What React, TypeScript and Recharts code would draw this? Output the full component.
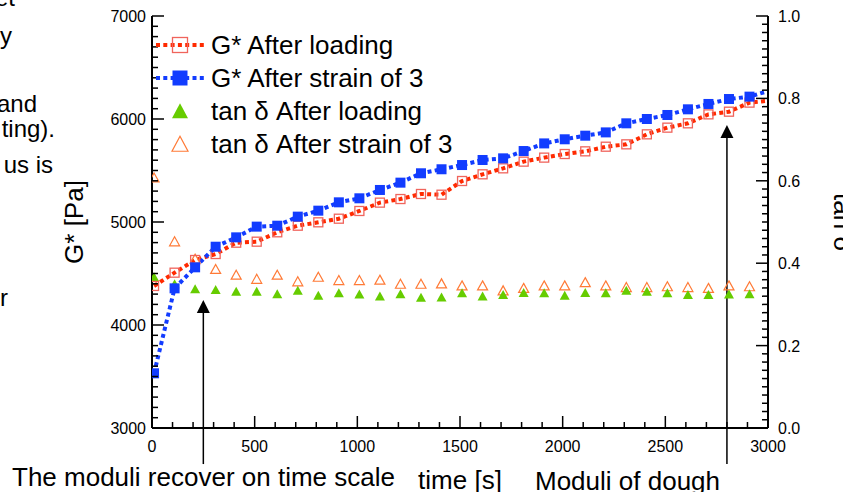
import React from "react";
import { ComposedChart, Line, XAxis, YAxis, Legend, ReferenceLine, Label } from "recharts";

const FONT = "'Liberation Sans', Arial, sans-serif";

// time in s (last entry only carries the G* lines to the right edge)
const times = [
  10, 110, 210, 310, 410, 510, 610, 710, 810, 910, 1010, 1110, 1210, 1310, 1410,
  1510, 1610, 1710, 1810, 1910, 2010, 2110, 2210, 2310, 2410, 2510, 2610, 2710, 2810, 2910, 2990,
];
const gAfterLoading = [
  4379, 4508, 4631, 4689, 4799, 4809, 4900, 4964, 4997, 5032, 5107, 5188, 5223, 5272, 5265,
  5398, 5463, 5521, 5586, 5625, 5660, 5686, 5731, 5754, 5851, 5916, 5958, 6045, 6071, 6159, 6175,
];
const gAfterStrain = [
  3531, 4356, 4560, 4760, 4851, 4955, 4964, 5052, 5110, 5191, 5230, 5311, 5382, 5473, 5512,
  5553, 5602, 5618, 5689, 5763, 5803, 5838, 5870, 5958, 6000, 6039, 6094, 6146, 6194, 6217, 6265,
];
const tanAfterLoading = [
  0.366, 0.349, 0.337, 0.335, 0.331, 0.331, 0.325, 0.333, 0.321, 0.327, 0.324, 0.319, 0.325, 0.316, 0.317,
  0.327, 0.319, 0.323, 0.328, 0.327, 0.321, 0.328, 0.327, 0.333, 0.331, 0.327, 0.323, 0.323, 0.324, 0.325,
];
const tanAfterStrain = [
  0.607, 0.452, 0.41, 0.385, 0.371, 0.361, 0.371, 0.355, 0.366, 0.358, 0.358, 0.359, 0.349, 0.349, 0.35,
  0.345, 0.345, 0.333, 0.339, 0.345, 0.345, 0.353, 0.345, 0.341, 0.341, 0.343, 0.341, 0.339, 0.345, 0.343,
];
const seriesNames = [
  "G* After loading",
  "G* After strain of 3",
  "tan \u03b4 After loading",
  "tan \u03b4 After strain of 3",
];
const timeLabels = [0, 500, 1000, 1500, 2000, 2500, 3000];
const gLabels = [3000, 4000, 5000, 6000, 7000];
const tanLabels = [0, 0.2, 0.4, 0.6, 0.8, 1.0];
// arrows: [time, bottom G*, tip G*]
const arrows = [
  [250, 2650, 4243],
  [2800, 2650, 5942],
];

const N_MARKS = 30;
const data = times.map((t, i) => ({
  t,
  gLoad: gAfterLoading[i],
  gStrain: gAfterStrain[i],
  tanLoad: tanAfterLoading[i] ?? null,
  tanStrain: tanAfterStrain[i] ?? null,
}));

const xTicks = Array.from({ length: 31 }, (_, i) => i * 100);
const gTicks = Array.from({ length: 41 }, (_, i) => 3000 + i * 100);
const tanTicks = Array.from({ length: 51 }, (_, i) => i / 50);

const RED = "#ff2a00";
const RED_SQ = "#f0645c";
const BLUE = "#123cff";
const GREEN = "#66cc00";
const ORANGE = "#ff7a36";

const isIn = (v: number, list: number[]) => list.some((m) => Math.abs(m - v) < 1e-6);

const BottomTick = (p: any) => {
  const v = p.payload.value;
  const major = isIn(v, timeLabels);
  return (
    <g>
      <line x1={p.x} x2={p.x} y1={p.y} y2={p.y - (major ? 12 : 6)} stroke="#000" strokeWidth={1.5} />
      {major && (
        <text x={p.x} y={p.y + 23.5} textAnchor="middle" fontSize={16} fontFamily={FONT} fill="#000">
          {v}
        </text>
      )}
    </g>
  );
};

const TopTick = (p: any) => {
  const major = isIn(p.payload.value, timeLabels);
  return <line x1={p.x} x2={p.x} y1={p.y} y2={p.y + (major ? 12 : 6)} stroke="#000" strokeWidth={1.5} />;
};

const LeftTick = (p: any) => {
  const v = p.payload.value;
  const major = isIn(v, gLabels);
  return (
    <g>
      <line x1={p.x} x2={p.x + (major ? 12 : 6)} y1={p.y} y2={p.y} stroke="#000" strokeWidth={1.5} />
      {major && (
        <text x={p.x - 6} y={p.y + 6} textAnchor="end" fontSize={16} fontFamily={FONT} fill="#000">
          {v}
        </text>
      )}
    </g>
  );
};

const RightTick = (p: any) => {
  const v = p.payload.value;
  const major = isIn(v, tanLabels);
  return (
    <g>
      <line x1={p.x} x2={p.x - (major ? 12 : 6)} y1={p.y} y2={p.y} stroke="#000" strokeWidth={1.5} />
      {major && (
        <text x={p.x + 10} y={p.y + 6} textAnchor="start" fontSize={16} fontFamily={FONT} fill="#000">
          {v.toFixed(1)}
        </text>
      )}
    </g>
  );
};

const OpenSquare = (p: any) => {
  if (p.index >= N_MARKS || p.cy == null) return <g key={`rs${p.index}`} />;
  return (
    <rect key={`rs${p.index}`} x={p.cx - 4.5} y={p.cy - 4.5} width={9} height={9}
      fill="none" stroke={RED_SQ} strokeWidth={1.3} />
  );
};

const FilledSquare = (p: any) => {
  if (p.index >= N_MARKS || p.cy == null) return <g key={`bs${p.index}`} />;
  return <rect key={`bs${p.index}`} x={p.cx - 5} y={p.cy - 5} width={10} height={10} fill={BLUE} />;
};

const triPath = (cx: number, cy: number, w: number, h: number) =>
  `M${cx},${cy - h * 0.55} L${cx + w / 2},${cy + h * 0.45} L${cx - w / 2},${cy + h * 0.45} Z`;

const GreenTri = (p: any) => {
  if (p.value == null || p.cy == null) return <g key={`gt${p.index}`} />;
  return <path key={`gt${p.index}`} d={triPath(p.cx, p.cy, 10, 9)} fill={GREEN} />;
};

const OrangeTri = (p: any) => {
  if (p.value == null || p.cy == null) return <g key={`ot${p.index}`} />;
  return <path key={`ot${p.index}`} d={triPath(p.cx, p.cy, 10, 9)} fill="none" stroke={ORANGE} strokeWidth={1.2} />;
};

const ArrowShape = (p: any) => (
  <g>
    <line x1={p.x1} y1={p.y1} x2={p.x2} y2={p.y2 + 12} stroke="#000" strokeWidth={1.5} />
    <path d={`M${p.x2},${p.y2} L${p.x2 + 6.5},${p.y2 + 13} L${p.x2 - 6.5},${p.y2 + 13} Z`} fill="#000" />
  </g>
);

const legendSample = (i: number) => {
  if (i === 0)
    return (
      <svg width={50} height={20}>
        <line x1={1} x2={49} y1={10} y2={10} stroke={RED} strokeWidth={4} strokeDasharray="4 3.3" />
        <rect x={17.5} y={2.5} width={15} height={15} fill="none" stroke={RED_SQ} strokeWidth={1.3} />
      </svg>
    );
  if (i === 1)
    return (
      <svg width={50} height={20}>
        <line x1={1} x2={49} y1={10} y2={10} stroke={BLUE} strokeWidth={4} strokeDasharray="4 3.3" />
        <rect x={17.5} y={2.5} width={15} height={15} fill={BLUE} />
      </svg>
    );
  return (
    <svg width={50} height={20}>
      <path d={triPath(25, 10.5, 16, 15)} fill={i === 2 ? GREEN : "none"}
        stroke={i === 2 ? "none" : ORANGE} strokeWidth={1.2} />
    </svg>
  );
};

const LegendBox = () => (
  <div style={{ fontFamily: FONT }}>
    {seriesNames.map((name, i) => (
      <div key={name} style={{ display: "flex", alignItems: "center", height: 33 }}>
        {legendSample(i)}
        <span style={{ fontSize: 26, marginLeft: 6, lineHeight: 1, whiteSpace: "nowrap", color: "#000" }}>
          {name}
        </span>
      </div>
    ))}
  </div>
);

const slideText: [string, number, number, "start" | "end", number][] = [
  ["et", 15, 6, "end", 24],
  ["y", 12, 44, "end", 24],
  ["and", 37, 112, "end", 24],
  ["ting).", 55, 137, "end", 24],
  ["us is", 53, 173, "end", 24],
  ["r", 8, 306, "end", 24],
  ["The moduli recover on time scale", 12, 486, "start", 26],
  ["Moduli of dough", 535, 490, "start", 26],
];

export default function App() {
  return (
    <div style={{ position: "absolute", left: 0, top: 0, width: 843, height: 492, background: "#fff", fontFamily: FONT }}>
      <svg width={843} height={492} style={{ position: "absolute", left: 0, top: 0, pointerEvents: "none" }}>
        {slideText.map(([s, x, y, a, fs]) => (
          <text key={s} x={x} y={y} textAnchor={a} fontSize={fs} fontFamily={FONT} fill="#000">
            {s}
          </text>
        ))}
      </svg>
      <ComposedChart width={843} height={492} data={data} margin={{ top: 16, right: 35, bottom: 34, left: 92 }}>
        <XAxis xAxisId="b" dataKey="t" type="number" domain={[0, 3000]} allowDataOverflow ticks={xTicks}
          interval={0} tickLine={false} tickSize={0} tickMargin={0} tick={BottomTick} height={30}
          axisLine={{ stroke: "#000", strokeWidth: 2 }}>
          <Label content={(lp: any) => (
            <text x={lp.viewBox.x + lp.viewBox.width / 2} y={lp.viewBox.y + 61} textAnchor="middle"
              fontSize={26} fontFamily={FONT} fill="#000">time [s]</text>
          )} />
        </XAxis>
        <XAxis xAxisId="t" dataKey="t" type="number" orientation="top" domain={[0, 3000]} allowDataOverflow
          ticks={xTicks} interval={0} tickLine={false} tickSize={0} tickMargin={0} tick={TopTick} height={0}
          axisLine={{ stroke: "#000", strokeWidth: 2 }} />
        <YAxis yAxisId="g" type="number" domain={[3000, 7000]} allowDataOverflow ticks={gTicks} interval={0}
          tickLine={false} tickSize={0} tickMargin={0} tick={LeftTick} width={60}
          axisLine={{ stroke: "#000", strokeWidth: 2 }}>
          <Label content={(lp: any) => {
            const x = lp.viewBox.x + lp.viewBox.width - 69.5;
            const y = lp.viewBox.y + lp.viewBox.height / 2;
            return (
              <text x={x} y={y} transform={`rotate(-90, ${x}, ${y})`} textAnchor="middle" fontSize={26}
                fontFamily={FONT} fill="#000">G* [Pa]</text>
            );
          }} />
        </YAxis>
        <YAxis yAxisId="tan" type="number" orientation="right" domain={[0, 1]} allowDataOverflow ticks={tanTicks}
          interval={0} tickLine={false} tickSize={0} tickMargin={0} tick={RightTick} width={40}
          axisLine={{ stroke: "#000", strokeWidth: 2 }}>
          <Label content={(lp: any) => {
            const x = lp.viewBox.x + 66;
            const y = lp.viewBox.y + lp.viewBox.height / 2;
            return (
              <text x={x} y={y} transform={`rotate(90, ${x}, ${y})`} textAnchor="middle" fontSize={26}
                fontFamily={FONT} fill="#000">tan {"\u03b4"}</text>
            );
          }} />
        </YAxis>
        <Legend layout="horizontal" verticalAlign="middle" align="center" content={LegendBox}
          wrapperStyle={{ left: 155, top: 28, width: 330 }} />
        <Line xAxisId="t" yAxisId="tan" dataKey="tanStrain" stroke="none" dot={OrangeTri} activeDot={false}
          isAnimationActive={false} legendType="none" />
        <Line xAxisId="t" yAxisId="tan" dataKey="tanLoad" stroke="none" dot={GreenTri} activeDot={false}
          isAnimationActive={false} legendType="none" />
        <Line xAxisId="b" yAxisId="g" dataKey="gLoad" stroke={RED} strokeWidth={4} strokeDasharray="4 3.3"
          dot={OpenSquare} activeDot={false} isAnimationActive={false} />
        <Line xAxisId="b" yAxisId="g" dataKey="gStrain" stroke={BLUE} strokeWidth={4} strokeDasharray="4 3.3"
          dot={FilledSquare} activeDot={false} isAnimationActive={false} />
        {arrows.map(([t, lo, hi]) => (
          <ReferenceLine key={t} xAxisId="b" yAxisId="g" ifOverflow="visible"
            segment={[{ x: t, y: lo }, { x: t, y: hi }]} shape={ArrowShape} />
        ))}
      </ComposedChart>
    </div>
  );
}
